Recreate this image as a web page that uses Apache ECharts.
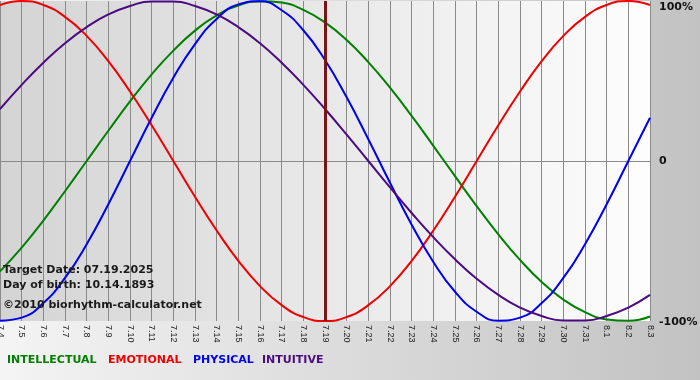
<!DOCTYPE html>
<html>
<head>
<meta charset="utf-8">
<script src="https://cdn.jsdelivr.net/npm/echarts@6/dist/echarts.min.js"></script>
<style>
  html, body { margin: 0; padding: 0; }
  #chart { width: 700px; height: 380px; }
</style>
</head>
<body>
<div id="chart"></div>
<script>
// Dates (x-axis categories)
var dates = ['7.4','7.5','7.6','7.7','7.8','7.9','7.10','7.11','7.12','7.13','7.14','7.15','7.16','7.17','7.18','7.19',
             '7.20','7.21','7.22','7.23','7.24','7.25','7.26','7.27','7.28','7.29','7.30','7.31','8.1','8.2','8.3'];

// Rhythm values (fraction of 100%), read per day
var intellectual = [-0.690,-0.541,-0.372,-0.189,0.000,0.189,0.372,0.541,0.690,0.815,0.910,0.972,0.999,0.990,0.945,0.866,
                    0.756,0.618,0.458,0.282,0.095,-0.095,-0.282,-0.458,-0.618,-0.756,-0.866,-0.945,-0.990,-0.999,-0.972];
var emotional = [0.975,1.000,0.975,0.901,0.782,0.624,0.434,0.223,0.000,-0.223,-0.434,-0.624,-0.782,-0.901,-0.975,-1.000,
                 -0.975,-0.901,-0.782,-0.624,-0.434,-0.223,0.000,0.223,0.434,0.624,0.782,0.901,0.975,1.000,0.975];
var physical = [-0.998,-0.979,-0.888,-0.731,-0.520,-0.270,0.000,0.270,0.520,0.731,0.888,0.979,0.998,0.942,0.817,0.631,
                0.398,0.136,-0.136,-0.398,-0.631,-0.817,-0.942,-0.998,-0.979,-0.888,-0.731,-0.520,-0.270,0.000,0.270];
var intuitive = [0.325,0.476,0.614,0.736,0.837,0.916,0.969,0.997,0.997,0.969,0.916,0.837,0.736,0.614,0.476,0.325,
                 0.165,0.000,-0.165,-0.325,-0.476,-0.614,-0.736,-0.837,-0.916,-0.969,-0.997,-0.997,-0.969,-0.916,-0.837];

var targetDate = '7.19';
var infoLines = ['Target Date: 07.19.2025', 'Day of birth: 10.14.1893', '\u00A92010 biorhythm-calculator.net'];
var legendNames = ['INTELLECTUAL', 'EMOTIONAL', 'PHYSICAL', 'INTUITIVE'];
var yTickLabels = { '-1': '-100%', '0': '0', '1': '100%' };

var colors = { green: '#008000', red: '#ee0000', blue: '#0000ee', purple: '#4b0a82' };
var FONT = '"DejaVu Sans", Verdana, sans-serif';

var chart = echarts.init(document.getElementById('chart'), null, { renderer: 'canvas' });

function lineSeries(name, data, color) {
  return {
    name: name, type: 'line', data: data, smooth: true, showSymbol: false, symbol: 'none',
    lineStyle: { color: color, width: 2 }, itemStyle: { color: color }, z: 3, silent: true
  };
}

var infoY = [272, 287, 307];
var legendX = [7, 108, 193, 262];
var legendColors = [colors.green, colors.red, colors.blue, colors.purple];

var graphics = [];
infoLines.forEach(function (t, i) {
  graphics.push({ type: 'text', left: 3, top: infoY[i] - 7, z: 10,
    style: { text: t, fill: '#1a1a1a', font: 'bold 11px ' + FONT } });
});
legendNames.forEach(function (t, i) {
  graphics.push({ type: 'text', left: legendX[i], top: 355, z: 10,
    style: { text: t, fill: legendColors[i], font: 'bold 11px ' + FONT } });
});

var option = {
  animation: false,
  backgroundColor: { type: 'linear', x: 0, y: 0, x2: 1, y2: 0,
    colorStops: [{ offset: 0, color: '#f4f4f4' }, { offset: 1, color: '#c2c2c2' }] },
  grid: { left: 0, right: 50, top: 1, bottom: 59, show: true, borderWidth: 0,
    outerBoundsMode: 'none', containLabel: false,
    backgroundColor: { type: 'linear', x: 0, y: 0, x2: 1, y2: 0,
      colorStops: [{ offset: 0, color: '#d4d4d4' }, { offset: 1, color: '#fdfdfd' }] } },
  xAxis: {
    type: 'category', data: dates, boundaryGap: false,
    axisLine: { show: true, lineStyle: { color: '#8a8a8a', width: 1 } },
    axisTick: { show: false },
    splitLine: { show: true, interval: 0, lineStyle: { color: '#8a8a8a', width: 1 } },
    axisLabel: { interval: 0, rotate: -90, margin: 4, color: '#222', fontSize: 9,
      fontFamily: '"Liberation Sans", Arial, sans-serif' }
  },
  yAxis: {
    type: 'value', position: 'right', min: -1, max: 1, interval: 1,
    axisLine: { show: false }, axisTick: { show: false },
    splitLine: { show: true, lineStyle: { color: ['transparent', '#8a8a8a', 'transparent'], width: 1 } },
    axisLabel: {
      margin: 9, color: '#111', fontWeight: 'bold', fontSize: 11, fontFamily: FONT,
      formatter: function (v) {
        var s = yTickLabels[String(Math.round(v))];
        if (v > 0.5) return '{top|' + s + '}';
        if (v < -0.5) return '{bot|' + s + '}';
        return s;
      },
      rich: {
        top: { padding: [12, 0, 0, 0], fontWeight: 'bold', fontSize: 11, fontFamily: FONT, color: '#111' },
        bot: { padding: [3, 0, 0, 0], fontWeight: 'bold', fontSize: 11, fontFamily: FONT, color: '#111' }
      }
    }
  },
  series: [
    lineSeries('INTELLECTUAL', intellectual, colors.green),
    lineSeries('EMOTIONAL', emotional, colors.red),
    lineSeries('PHYSICAL', physical, colors.blue),
    lineSeries('INTUITIVE', intuitive, colors.purple),
    {
      type: 'line', data: [], silent: true,
      markLine: { silent: true, symbol: 'none', label: { show: false },
        lineStyle: { color: '#7a1515', width: 3, type: 'solid' },
        data: [{ xAxis: targetDate }] }
    }
  ],
  graphic: graphics
};
chart.setOption(option);
</script>
</body>
</html>
